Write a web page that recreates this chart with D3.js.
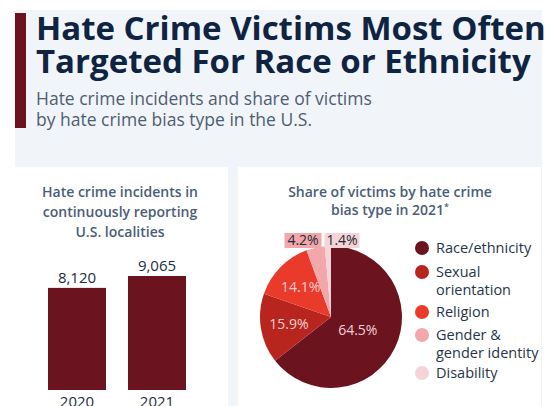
<!DOCTYPE html>
<html>
<head>
<meta charset="utf-8">
<script src="https://cdn.jsdelivr.net/npm/d3@7"></script>
<style>
  html, body { margin: 0; padding: 0; background: #ffffff; }
  svg { display: block; font-family: "Open Sans", sans-serif; }
</style>
</head>
<body>
<svg id="chart" width="552" height="406"></svg>
<script>
// Incidents in continuously reporting localities
const years = ["2020", "2021"];
const incidents = [8120, 9065];

// Share of victims by bias type, 2021 (%)
const biasTypes = ["Race/ethnicity", "Sexual orientation", "Religion", "Gender & gender identity", "Disability"];
const biasLegendLines = [["Race/ethnicity"], ["Sexual", "orientation"], ["Religion"], ["Gender &", "gender identity"], ["Disability"]];
const biasShares = [64.5, 15.9, 14.1, 4.2, 1.4];
const biasColors = ["#6b1420", "#b8251e", "#ea3a2c", "#f2a7ab", "#f6d3d6"];

const svg = d3.select("#chart");
const bgLight = "#f1f5f9";

// Header band and panel backdrop
svg.append("rect").attr("x", 15).attr("y", 10).attr("width", 527).attr("height", 396).attr("fill", bgLight);
svg.append("rect").attr("x", 15).attr("y", 13).attr("width", 11).attr("height", 115).attr("fill", "#6b1420");

const title = svg.append("text").attr("fill", "#0e2442").attr("font-weight", 700).attr("font-size", 33);
title.append("tspan").attr("x", 36).attr("y", 40).text("Hate Crime Victims Most Often");
title.append("tspan").attr("x", 36).attr("y", 73).text("Targeted For Race or Ethnicity");

const sub = svg.append("text").attr("fill", "#4e5d72").attr("font-size", 17.5);
sub.append("tspan").attr("x", 36).attr("y", 105).text("Hate crime incidents and share of victims");
sub.append("tspan").attr("x", 36).attr("y", 126).text("by hate crime bias type in the U.S.");

// White panels
svg.append("rect").attr("x", 15).attr("y", 167).attr("width", 213).attr("height", 239).attr("fill", "#ffffff");
svg.append("rect").attr("x", 238).attr("y", 167).attr("width", 303).attr("height", 239).attr("fill", "#ffffff");

const panelTitleColor = "#4a5d78";

// ---- Bar chart ----
const leftTitle = svg.append("text").attr("fill", panelTitleColor).attr("font-weight", 600)
  .attr("font-size", 14).attr("text-anchor", "middle");
["Hate crime incidents in", "continuously reporting", "U.S. localities"].forEach((t, i) => {
  leftTitle.append("tspan").attr("x", 120).attr("y", 197 + i * 20).text(t);
});

const x = d3.scaleBand().domain(years).range([28, 206]).paddingInner(0.275).paddingOuter(0.25);
const y = d3.scaleLinear().domain([0, d3.max(incidents)]).range([390, 276]);

const bars = svg.append("g");
bars.selectAll("rect").data(years).join("rect")
  .attr("x", d => x(d))
  .attr("width", x.bandwidth())
  .attr("y", (d, i) => y(incidents[i]))
  .attr("height", (d, i) => y(0) - y(incidents[i]))
  .attr("fill", "#6b1420");

bars.selectAll("text.val").data(years).join("text").attr("class", "val")
  .attr("x", d => x(d) + x.bandwidth() / 2)
  .attr("y", (d, i) => y(incidents[i]) - 5)
  .attr("text-anchor", "middle").attr("font-size", 15).attr("fill", "#1e2b3c")
  .text((d, i) => d3.format(",")(incidents[i]));

const xAxis = svg.append("g").attr("transform", "translate(0,390)")
  .call(d3.axisBottom(x).tickSize(0).tickPadding(6));
xAxis.select(".domain").remove();
xAxis.selectAll("text").attr("font-size", 15).attr("fill", "#1e2b3c").attr("font-family", "Open Sans, sans-serif")
  .attr("dy", "0.71em");

// ---- Pie chart ----
const rightTitle = svg.append("text").attr("fill", panelTitleColor).attr("font-weight", 600)
  .attr("font-size", 14).attr("text-anchor", "middle");
rightTitle.append("tspan").attr("x", 390).attr("y", 197).text("Share of victims by hate crime");
rightTitle.append("tspan").attr("x", 390).attr("y", 215).text("bias type in 2021");
rightTitle.append("tspan").attr("font-size", 9).attr("dy", -5).text("*");

const cx = 331, cy = 317, r = 71;
const pie = d3.pie().sort(null).value(d => d)(biasShares);
const arc = d3.arc().innerRadius(0).outerRadius(r);
const pg = svg.append("g").attr("transform", `translate(${cx},${cy})`);

pg.selectAll("path").data(pie).join("path")
  .attr("d", arc)
  .attr("fill", (d, i) => biasColors[i]);

// Inside labels for large slices
const inArc = d3.arc().innerRadius(r * 0.6).outerRadius(r * 0.6);
const mainArc = d3.arc().innerRadius(r * 0.42).outerRadius(r * 0.42);
pg.selectAll("text.in").data(pie.filter(d => d.value > 10)).join("text").attr("class", "in")
  .attr("transform", d => `translate(${(d.index === 0 ? mainArc : inArc).centroid(d)})`)
  .attr("text-anchor", "middle").attr("dy", "0.35em")
  .attr("font-size", 14).attr("fill", "#f3d0d3")
  .text(d => d.value + "%");

// Callout labels for the small slices, sitting on top of the pie
const small = pie.filter(d => d.value < 10);
const smallX = [303 - cx, 342 - cx];
small.forEach((d, k) => {
  const g = pg.append("g").attr("transform", `translate(${smallX[k]},${240 - cy})`);
  const w = k === 0 ? 37 : 35;
  g.append("rect").attr("x", -w / 2).attr("y", -7).attr("width", w).attr("height", 15)
    .attr("fill", biasColors[d.index]);
  g.append("text").attr("text-anchor", "middle").attr("dy", "0.35em")
    .attr("font-size", 14).attr("fill", "#1e2b3c").text(d.value + "%");
});

// Legend
const legendRows = [248, 272, 312, 335, 373];
const lg = svg.append("g");
biasTypes.forEach((name, i) => {
  lg.append("circle").attr("cx", 422).attr("cy", legendRows[i]).attr("r", 7).attr("fill", biasColors[i]);
  const t = lg.append("text").attr("font-size", 14.5).attr("fill", "#26354a");
  biasLegendLines[i].forEach((line, j) => {
    t.append("tspan").attr("x", 436).attr("y", legendRows[i] + 5 + j * 18).text(line);
  });
});
</script>
</body>
</html>
